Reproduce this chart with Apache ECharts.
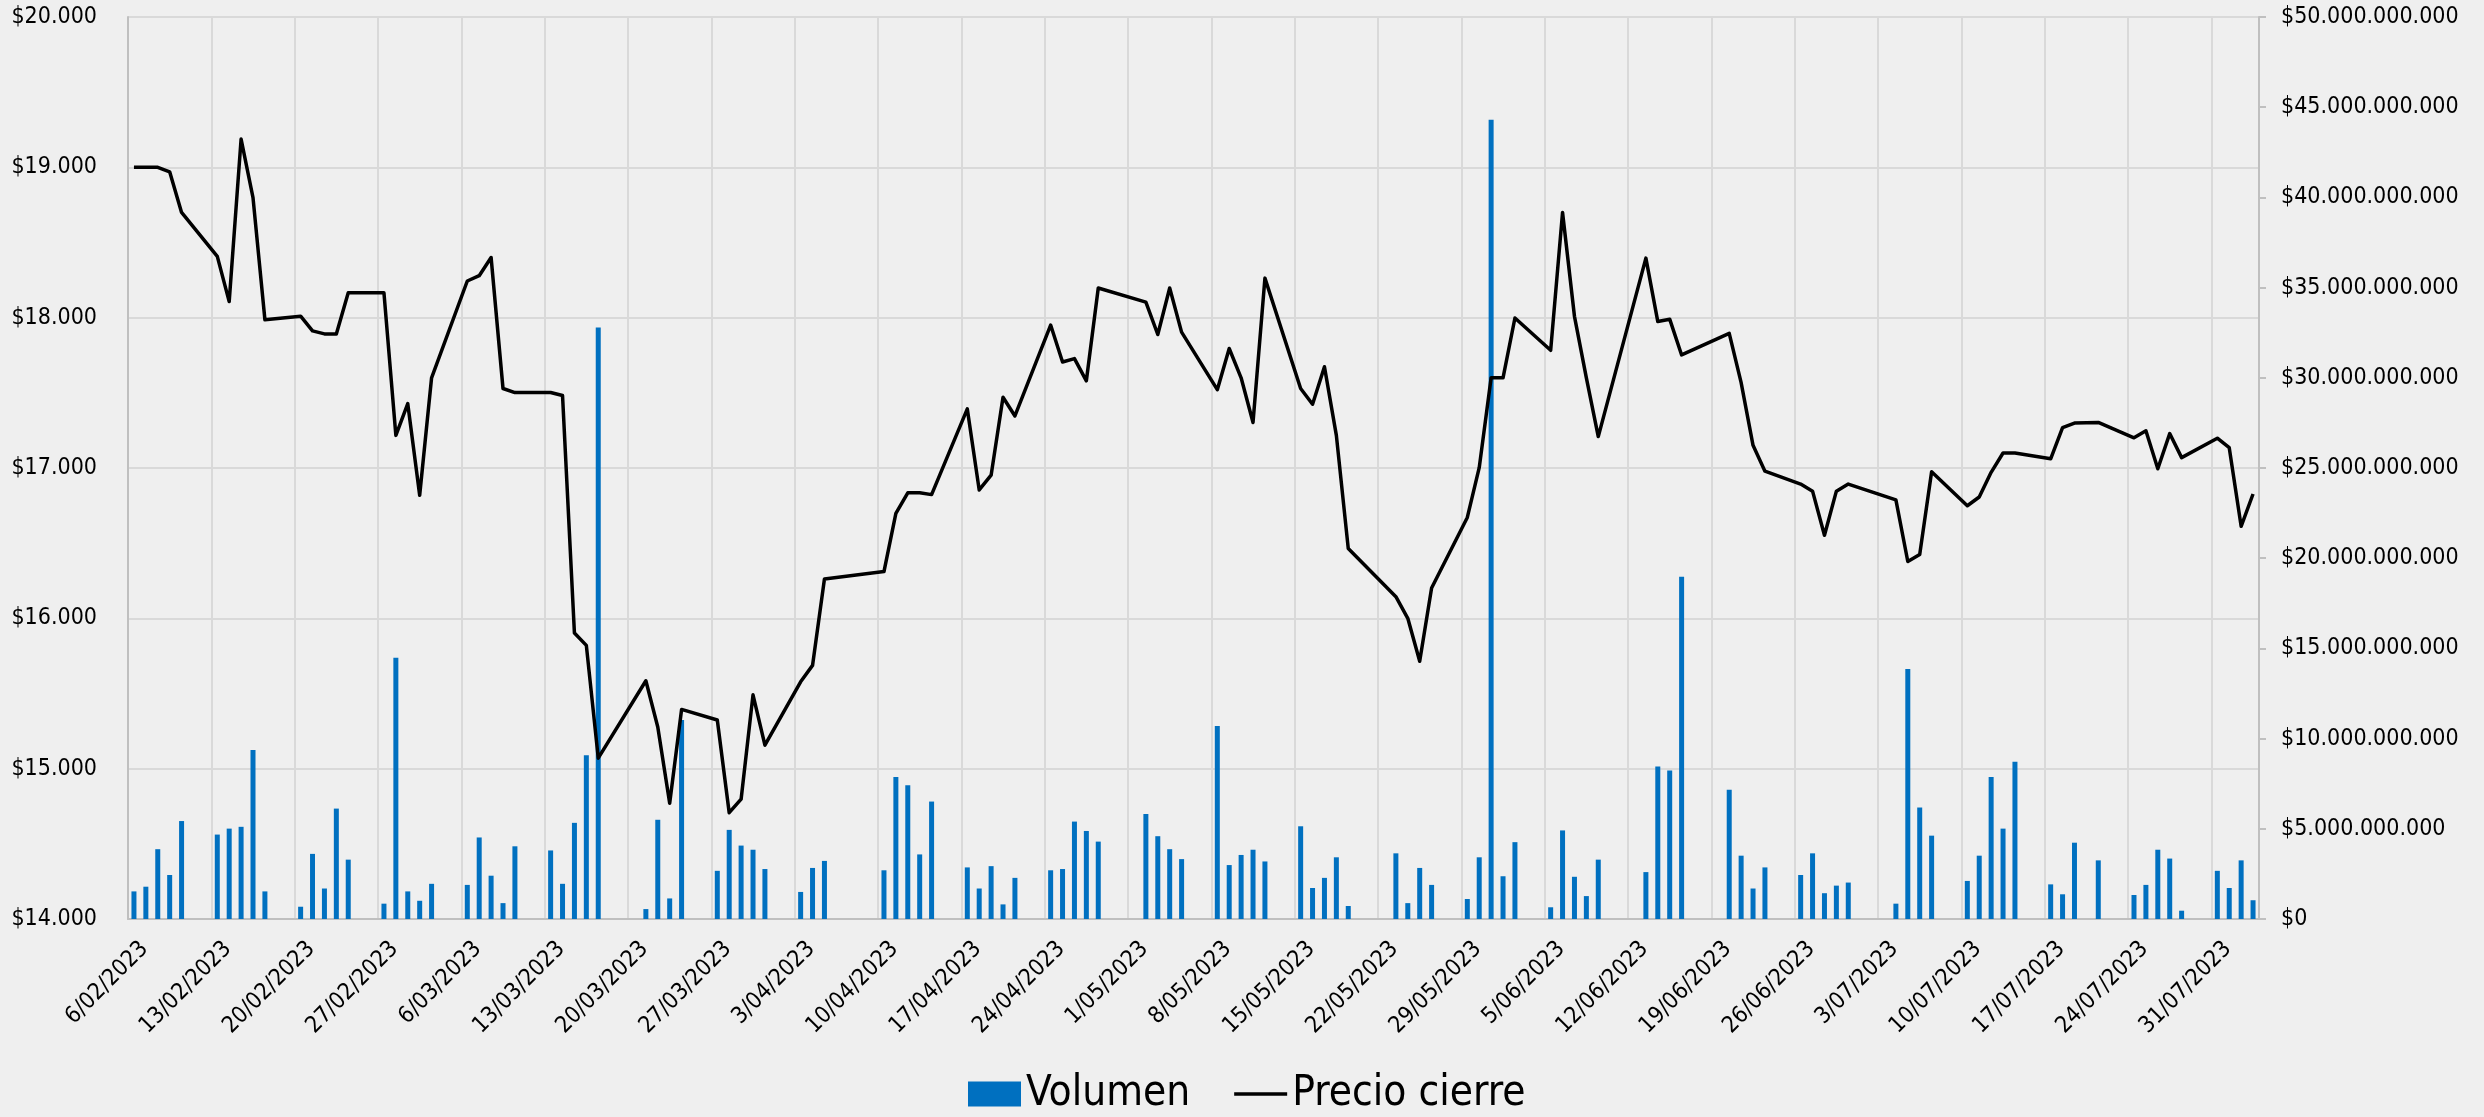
<!DOCTYPE html>
<html>
<head>
<meta charset="utf-8">
<script src="https://cdn.jsdelivr.net/npm/echarts@6/dist/echarts.min.js"></script>
<style>
html,body{margin:0;padding:0;background:#efefef;}
#chart{width:2484px;height:1117px;}
</style>
</head>
<body>
<div id="chart"></div>
<script>
// Axis span (calendar days shown on the date axis)
const axisStart = '2023-02-06';
const axisEnd = '2023-08-03';

// Trading days
const tradeDates = [
  '2023-02-06','2023-02-07','2023-02-08','2023-02-09','2023-02-10',
  '2023-02-13','2023-02-14','2023-02-15','2023-02-16','2023-02-17',
  '2023-02-20','2023-02-21','2023-02-22','2023-02-23','2023-02-24',
  '2023-02-27','2023-02-28','2023-03-01','2023-03-02','2023-03-03',
  '2023-03-06','2023-03-07','2023-03-08','2023-03-09','2023-03-10',
  '2023-03-13','2023-03-14','2023-03-15','2023-03-16','2023-03-17',
  '2023-03-21','2023-03-22','2023-03-23','2023-03-24',
  '2023-03-27','2023-03-28','2023-03-29','2023-03-30','2023-03-31',
  '2023-04-03','2023-04-04','2023-04-05',
  '2023-04-10','2023-04-11','2023-04-12','2023-04-13','2023-04-14',
  '2023-04-17','2023-04-18','2023-04-19','2023-04-20','2023-04-21',
  '2023-04-24','2023-04-25','2023-04-26','2023-04-27','2023-04-28',
  '2023-05-02','2023-05-03','2023-05-04','2023-05-05',
  '2023-05-08','2023-05-09','2023-05-10','2023-05-11','2023-05-12',
  '2023-05-15','2023-05-16','2023-05-17','2023-05-18','2023-05-19',
  '2023-05-23','2023-05-24','2023-05-25','2023-05-26',
  '2023-05-29','2023-05-30','2023-05-31','2023-06-01','2023-06-02',
  '2023-06-05','2023-06-06','2023-06-07','2023-06-08','2023-06-09',
  '2023-06-13','2023-06-14','2023-06-15','2023-06-16',
  '2023-06-20','2023-06-21','2023-06-22','2023-06-23',
  '2023-06-26','2023-06-27','2023-06-28','2023-06-29','2023-06-30',
  '2023-07-04','2023-07-05','2023-07-06','2023-07-07',
  '2023-07-10','2023-07-11','2023-07-12','2023-07-13','2023-07-14',
  '2023-07-17','2023-07-18','2023-07-19','2023-07-21',
  '2023-07-24','2023-07-25','2023-07-26','2023-07-27','2023-07-28',
  '2023-07-31','2023-08-01','2023-08-02','2023-08-03'
];

// Precio cierre (left axis)
const closePrice = [
  19000,19000,19000,18970,18700,
  18408,18107,19188,18798,17986,
  18010,17912,17892,17892,18165,
  18165,17217,17428,16819,17600,
  18244,18279,18400,17529,17502,
  17502,17482,15902,15820,15070,
  15585,15277,14770,15394,
  15324,14707,14797,15491,15156,
  15578,15687,16261,
  16311,16698,16835,16835,16823,
  17393,16854,16952,17471,17346,
  17951,17705,17728,17580,18197,
  18103,17888,18197,17904,
  17521,17795,17600,17303,18263,
  17529,17424,17674,17217,16464,
  16144,16000,15714,16202,
  16671,17002,17600,17600,17998,
  17783,18700,18009,17600,17209,
  18396,17974,17990,17752,
  17896,17568,17151,16979,
  16893,16846,16553,16846,16893,
  16788,16378,16425,16975,
  16749,16807,16971,17100,17100,
  17061,17268,17299,17303,
  17201,17248,16995,17229,17069,
  17198,17135,16612,16827
];

// Volumen (right axis)
const volume = [
  1.53e9,1.79e9,3.87e9,2.44e9,5.43e9,
  4.68e9,5.01e9,5.11e9,9.37e9,1.53e9,
  0.68e9,3.61e9,1.69e9,6.12e9,3.29e9,
  0.85e9,14.48e9,1.53e9,1.01e9,1.95e9,
  1.89e9,4.52e9,2.40e9,0.88e9,4.03e9,
  3.80e9,1.95e9,5.33e9,9.08e9,32.79e9,
  0.55e9,5.50e9,1.14e9,11.03e9,
  2.67e9,4.94e9,4.07e9,3.84e9,2.77e9,
  1.50e9,2.83e9,3.22e9,
  2.70e9,7.87e9,7.42e9,3.58e9,6.51e9,
  2.86e9,1.69e9,2.93e9,0.81e9,2.28e9,
  2.70e9,2.77e9,5.40e9,4.88e9,4.29e9,
  5.82e9,4.59e9,3.87e9,3.32e9,
  10.70e9,2.99e9,3.55e9,3.84e9,3.19e9,
  5.14e9,1.72e9,2.28e9,3.42e9,0.72e9,
  3.64e9,0.88e9,2.83e9,1.89e9,
  1.11e9,3.42e9,44.30e9,2.37e9,4.26e9,
  0.65e9,4.91e9,2.34e9,1.27e9,3.29e9,
  2.60e9,8.46e9,8.23e9,18.97e9,
  7.16e9,3.51e9,1.69e9,2.86e9,
  2.44e9,3.64e9,1.43e9,1.85e9,2.02e9,
  0.85e9,13.86e9,6.18e9,4.62e9,
  2.11e9,3.51e9,7.87e9,5.01e9,8.72e9,
  1.92e9,1.37e9,4.23e9,3.25e9,
  1.33e9,1.89e9,3.84e9,3.35e9,0.46e9,
  2.67e9,1.72e9,3.25e9,1.04e9
];

// Axis ranges / ticks
const priceTicks = {min: 14000, max: 20000, step: 1000};
const volumeTicks = {min: 0, max: 50e9, step: 5e9};

// Build calendar category list
const DAY = 86400000;
const calendar = [];
for (let t = Date.parse(axisStart + 'T00:00:00Z'); t <= Date.parse(axisEnd + 'T00:00:00Z'); t += DAY) {
  calendar.push(new Date(t).toISOString().slice(0, 10));
}
const priceMap = {}, volMap = {};
tradeDates.forEach((d, i) => { priceMap[d] = closePrice[i]; volMap[d] = volume[i]; });
const priceSeries = calendar.map(d => (d in priceMap ? priceMap[d] : null));
const volSeries = calendar.map(d => (d in volMap ? volMap[d] : null));

function fmtNum(v) {
  return Math.round(v).toString().replace(/\B(?=(\d{3})+(?!\d))/g, '.');
}
function fmtDate(s) {
  const p = s.split('-');
  return parseInt(p[2], 10) + '/' + p[1] + '/' + p[0];
}

const FONT = "'DejaVu Sans Condensed', 'DejaVu Sans', sans-serif";
const chart = echarts.init(document.getElementById('chart'), null, {renderer: 'canvas'});
chart.setOption({
  backgroundColor: '#efefef',
  animation: false,
  textStyle: {fontFamily: FONT},
  grid: {left: 128, right: 225, top: 17, bottom: 198, containLabel: false},
  legend: {
    left: 968, top: 1073, padding: 0,
    itemWidth: 53, itemHeight: 25, itemGap: 44,
    textStyle: {fontSize: 42, color: '#000', fontFamily: FONT},
    data: [
      {name: 'Volumen', icon: 'rect'},
      {name: 'Precio cierre', icon: 'path://M0,0H53V3.5H0Z'}
    ]
  },
  xAxis: {
    type: 'category',
    data: calendar,
    boundaryGap: true,
    axisLine: {lineStyle: {color: '#bfbfbf', width: 2}},
    axisTick: {show: false},
    splitLine: {show: true, interval: 6, lineStyle: {color: '#d9d9d9', width: 2}},
    axisLabel: {
      interval: 6, rotate: 45, margin: 37, padding: [0, -15, 0, 0],
      fontSize: 23, color: '#000', fontFamily: FONT,
      formatter: fmtDate
    }
  },
  yAxis: [
    {
      type: 'value', position: 'left',
      min: priceTicks.min, max: priceTicks.max, interval: priceTicks.step,
      axisLine: {show: true, lineStyle: {color: '#bfbfbf', width: 2}},
      axisTick: {show: false},
      splitLine: {show: true, lineStyle: {color: '#d9d9d9', width: 2}},
      axisLabel: {margin: 31, fontSize: 23, color: '#000', fontFamily: FONT, formatter: v => '$' + fmtNum(v)}
    },
    {
      type: 'value', position: 'right',
      min: volumeTicks.min, max: volumeTicks.max, interval: volumeTicks.step,
      axisLine: {show: true, lineStyle: {color: '#bfbfbf', width: 2}},
      axisTick: {show: true, length: 7, lineStyle: {color: '#bfbfbf', width: 2}},
      splitLine: {show: false},
      axisLabel: {margin: 22, fontSize: 23, color: '#000', fontFamily: FONT, formatter: v => '$' + fmtNum(v)}
    }
  ],
  series: [
    {
      name: 'Volumen', type: 'bar', yAxisIndex: 1,
      data: volSeries, barWidth: 5,
      itemStyle: {color: '#0070c0'}
    },
    {
      name: 'Precio cierre', type: 'line', yAxisIndex: 0,
      data: priceSeries, connectNulls: true,
      symbol: 'none',
      lineStyle: {color: '#000', width: 3.5, join: 'round'},
      itemStyle: {color: '#000'}
    }
  ]
});
</script>
</body>
</html>
